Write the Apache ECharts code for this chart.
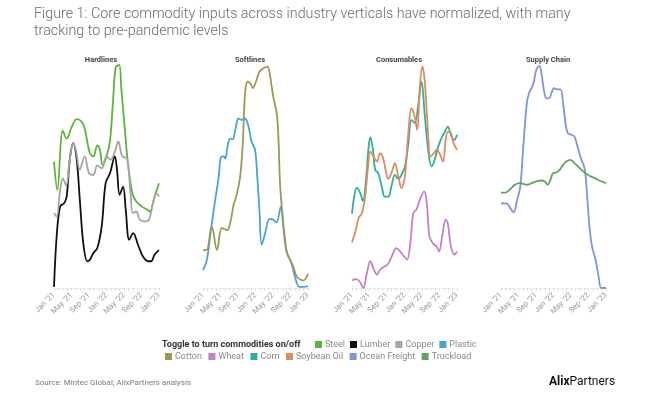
<!DOCTYPE html>
<html><head><meta charset="utf-8">
<script src="https://cdn.jsdelivr.net/npm/echarts@6/dist/echarts.min.js"></script>
<style>html,body{margin:0;padding:0;background:#fff;}#c{width:650px;height:398px;}</style>
</head><body><div id="c"></div>
<script>
// x = months since Jan '21, y = normalized index (0-100 per panel)
const tickLabels = ["Jan '21","May '21","Sep '21","Jan '22","May '22","Sep '22","Jan '23"];
const panels = ['Hardlines','Softlines','Consumables','Supply Chain'];

const steel = [[0,56.7],[0.76,44],[2,70.6],[2.9,67],[4,72],[5.2,75.7],[6.3,74.6],[7,71.6],[8.2,60.4],[9,59],[9.9,64],[10.5,62],[11.1,55],[12,59],[12.8,66],[13.5,84],[14.1,99],[14.9,100],[15.4,89],[16.2,71],[16.9,56],[17.9,42.5],[18.8,38.8],[20,36.6],[21.1,35.4],[21.9,34.3],[23,41],[24,47]];
const lumber = [[0,0.5],[0.6,23],[1.4,36.6],[2.3,38],[2.9,41],[3.6,57.5],[4.4,65],[5.2,57.5],[5.9,39.6],[6.7,20],[7.6,12],[8.2,12.7],[9,15.7],[9.9,17.9],[10.9,27.6],[11.8,47],[12.8,51.5],[13.9,59],[14.4,53],[15,41.8],[15.8,45.5],[16.4,35],[17.2,21.6],[18.1,24.6],[19.2,19.4],[20.3,14.2],[21.5,12],[22.2,12],[23,15],[24,17]];
const copper = [[0,33.6],[0.6,32],[1.4,44],[2,49],[2.8,46],[3.5,56],[4.4,65],[5,62],[5.9,53],[7,59],[8,51.5],[9,50.7],[9.9,55],[10.9,53.7],[12,59],[12.9,57.5],[13.9,61],[14.7,65.7],[15.6,59],[16.7,58],[17.5,42.5],[18,33.6],[18.8,34.3],[19.6,30.6],[20.7,29.9],[21.7,30.6],[22.6,38],[23.4,42.5],[24,41]];
const plastic = [[0,8],[0.9,12.7],[1.8,26],[2.8,39.6],[3.6,50],[4.1,58.7],[4.7,59],[5.1,58],[5.6,63.4],[6.2,67],[6.8,66.7],[7.3,70],[8.1,76],[8.8,75.4],[9.6,76],[10.4,72.4],[11.1,65.7],[11.9,62],[12.4,50],[12.9,35],[13.4,19.4],[14.2,24.6],[15.2,31],[16.1,30.6],[16.8,29.4],[17.8,36.6],[18.5,26],[19.2,15.7],[20.2,11.2],[21,5.2],[22,0.5],[22.9,0.5],[24,0.7]];
const cotton = [[0,17],[0.8,17],[2,27.6],[3.2,17],[4.3,26.9],[5.5,26],[6.2,29],[7,37.3],[7.7,41.8],[8.5,50],[9.1,65],[9.6,87],[10.2,92.5],[10.8,91.8],[11.4,89.6],[12.1,92.5],[12.9,97],[13.8,98.5],[14.7,99.3],[15.1,97.8],[15.7,90.3],[16.2,84.3],[16.8,79],[17.2,69.4],[17.6,47],[18,36.6],[18.5,24.6],[19.1,16.4],[19.9,12.7],[20.6,9.7],[21.4,5.2],[22.3,3.7],[23,3.4],[24,6.4]];
const wheat = [[0,3.4],[1,4],[1.7,3],[2.6,0],[3.4,6.7],[4.2,12],[5,8.2],[5.7,6],[6.4,8.2],[7.2,9.4],[8.1,10.4],[9.1,14.2],[10.1,17.9],[11,16.4],[11.9,14.2],[12.6,12.7],[13.4,21.6],[14,33.6],[14.7,35],[15.5,39.6],[16.5,43.3],[17.1,38],[17.7,23],[18.5,20],[19.3,18.7],[19.9,16.4],[20.6,23],[21.4,30.6],[21.9,29],[22.6,18.7],[23.4,15],[24,16.4]];
const corn = [[0,33.3],[0.5,41],[1.1,45],[1.9,42.5],[2.5,39],[3.2,48.5],[3.8,63.4],[4.2,67.6],[4.8,62],[5.3,53],[6,51.5],[6.8,45.5],[7.5,41],[8.3,41],[9,45.5],[9.8,50.7],[10.6,49],[11.3,50.7],[12.1,54.5],[12.8,63.4],[13.6,75.4],[14.3,73.9],[15.1,81.3],[15.9,92.5],[16.6,78.4],[17.4,62],[18.2,54.5],[18.9,57.5],[19.7,63.4],[20.4,67],[21.2,70],[21.9,72.4],[22.6,68.7],[23.4,66.4],[24,68.7]];
const soybeanOil = [[0,20.4],[0.8,25.4],[1.5,31.3],[2.3,33.6],[3,41],[3.6,53],[4.2,61.2],[4.9,59],[5.7,56.7],[6.4,60.4],[7,59],[7.6,53.7],[8.3,49],[9.1,52],[9.8,56],[10.6,50],[11.3,44.8],[12.1,50],[12.8,67.9],[13.6,80.6],[14.3,76.9],[14.9,70.9],[15.5,90.3],[16.1,99.3],[16.6,93.3],[17.4,69.4],[17.9,59],[18.7,60.4],[19.4,62],[20,60.4],[20.8,56.7],[21.4,66.4],[21.9,70],[22.4,70],[23.2,65],[24,62]];
const oceanFreight = [[0,38],[1.4,37.8],[2.1,35.8],[2.9,33.9],[3.6,38.8],[4.4,45.5],[5.1,63.4],[5.9,82.8],[6.5,88],[7,89.6],[7.5,92.5],[8.1,98],[8.8,99.6],[9.3,95.5],[9.8,88.8],[10.4,85],[11,85],[11.5,87.3],[12.1,89.6],[12.8,89.1],[13.6,89.1],[14.2,82.8],[14.8,73],[15.3,69.4],[16.1,68.7],[16.8,67.9],[17.6,62.7],[18.3,58],[19.1,53.7],[19.6,44],[20.2,27.6],[20.8,18.7],[21.6,12.7],[22.3,5.2],[22.9,0],[24,0]];
const truckload = [[0,42.8],[1,42.8],[2.1,44.3],[3.2,46.3],[4.2,47],[5.1,46.7],[5.9,46.3],[7,47],[8.1,47.8],[9.3,48.2],[10,47.8],[10.7,46.3],[11.3,48.5],[11.9,51.5],[12.7,51.8],[13.4,53],[14.2,55.2],[14.9,56.7],[15.8,57.5],[16.8,56],[18,53.7],[19.1,51.8],[20.2,50.3],[21.4,49.3],[22.5,48.2],[24,47]];

const seriesDefs = [
  {name:'Steel', data:steel, panel:0, color:'#5db43a'},
  {name:'Lumber', data:lumber, panel:0, color:'#111111'},
  {name:'Copper', data:copper, panel:0, color:'#a5a5a5'},
  {name:'Plastic', data:plastic, panel:1, color:'#45a6d6'},
  {name:'Cotton', data:cotton, panel:1, color:'#9c9a52'},
  {name:'Wheat', data:wheat, panel:2, color:'#c680c5'},
  {name:'Corn', data:corn, panel:2, color:'#2bb19c'},
  {name:'Soybean Oil', data:soybeanOil, panel:2, color:'#de8b5f'},
  {name:'Ocean Freight', data:oceanFreight, panel:3, color:'#7f95da'},
  {name:'Truckload', data:truckload, panel:3, color:'#62a362'}
];

const grids = [], xAxes = [], yAxes = [], titles = [];
const titleCenters = [101, 250, 399, 548];
panels.forEach((p, i) => {
  grids.push({left: 54 + 149*i, top: 65, width: 105, height: 223});
  xAxes.push({
    type:'value', gridIndex:i, min:0, max:24, interval:4,
    axisLine:{show:true, lineStyle:{color:'#ececec', width:1}},
    axisTick:{show:true, length:3, lineStyle:{color:'#e0e0e0'}},
    minorTick:{show:true, splitNumber:4, length:3, lineStyle:{color:'#e0e0e0'}},
    splitLine:{show:false},
    axisLabel:{rotate:45, fontSize:7.8, color:'#9a9a9a', fontFamily:'Roboto', margin:6,
      formatter: v => tickLabels[v/4] || ''}
  });
  yAxes.push({type:'value', gridIndex:i, min:0, max:100, show:false});
  titles.push({text:p, left:titleCenters[i], top:56, textAlign:'center', padding:0,
    textStyle:{fontSize:7.5, fontWeight:'bold', color:'#444', fontFamily:'Roboto'}});
});

const series = seriesDefs.map(s => ({
  name:s.name, type:'line', xAxisIndex:s.panel, yAxisIndex:s.panel,
  data:s.data, smooth:0.35, showSymbol:false, symbol:'none',
  lineStyle:{width:1.8, color:s.color}, itemStyle:{color:s.color}
}));

const legendCommon = {
  icon:'rect', itemWidth:7, itemHeight:7, orient:'horizontal',
  textStyle:{fontSize:9, color:'#8a8a8a', fontFamily:'Roboto', padding:[0,0,0,-2]}, padding:0
};

const chart = echarts.init(document.getElementById('c'), null, {renderer:'canvas'});
chart.setOption({
  animation:false,
  backgroundColor:'#fff',
  title: titles.concat([
    {text:'Figure 1: Core commodity inputs across industry verticals have normalized, with many\ntracking to pre-pandemic levels',
     left:34, top:6, padding:0, textStyle:{fontSize:14.3, fontWeight:300, color:'#6b6b6b', fontFamily:'Roboto', lineHeight:17}},
    {text:'Source: Mintec Global; AlixPartners analysis', left:35, top:379, padding:0,
     textStyle:{fontSize:8, fontWeight:'normal', color:'#7a7a7a', fontFamily:'Roboto'}},
    {text:'{b|Alix}{r|Partners}', left:549, top:376, padding:0,
     textStyle:{rich:{b:{fontSize:12, fontWeight:'bold', color:'#111', fontFamily:'Roboto'},
                      r:{fontSize:12, fontWeight:'normal', color:'#111', fontFamily:'Roboto'}}}},
    {text:'Toggle to turn commodities on/off', left:162, top:340, padding:0,
     textStyle:{fontSize:9, fontWeight:'bold', color:'#333', fontFamily:'Roboto'}}
  ]),
  legend:[
    Object.assign({data:['Steel','Lumber','Copper','Plastic'], left:315, top:340, itemGap:5}, legendCommon),
    Object.assign({data:['Cotton','Wheat','Corn','Soybean Oil','Ocean Freight','Truckload'], left:165, top:352, itemGap:6.5}, legendCommon)
  ],
  grid:grids, xAxis:xAxes, yAxis:yAxes, series:series
});
</script></body></html>
